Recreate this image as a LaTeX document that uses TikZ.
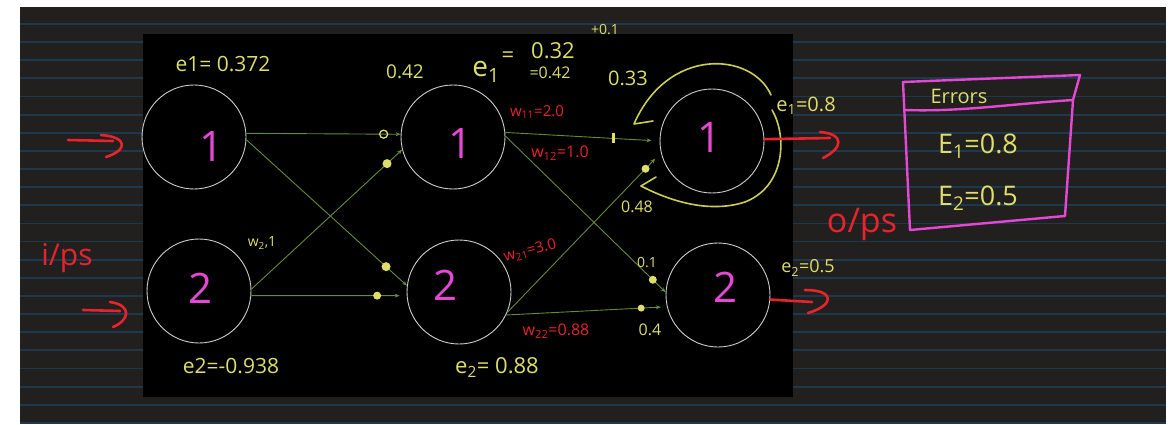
\documentclass[tikz,border=0pt]{standalone}
\usepackage{fontspec}
\setmainfont{Open Sans}
\usetikzlibrary{arrows.meta}
\definecolor{bgdark}{RGB}{33,32,31}
\definecolor{bluel}{RGB}{30,56,78}
\definecolor{yel}{RGB}{222,222,105}
\definecolor{loopy}{RGB}{205,205,85}
\definecolor{mag}{RGB}{228,72,212}
\definecolor{redc}{RGB}{232,35,45}
\definecolor{grn}{RGB}{100,140,55}
\definecolor{circ}{RGB}{205,205,205}
\begin{document}
\begin{tikzpicture}[x=1pt,y=-1pt,
  neuron/.style={circle,draw=circ,line width=0.9pt,minimum size=104pt,inner sep=0},
  digit/.style={text=mag,font=\fontsize{42}{42}\selectfont,inner sep=0},
  conn/.style={draw=grn,line width=0.9pt,-{Stealth[length=5pt,width=4pt]}},
  ydot/.style={circle,fill=yel,inner sep=0,minimum size=8pt},
  yring/.style={circle,draw=yel,line width=1.3pt,inner sep=0,minimum size=8pt},
  ytick/.style={rectangle,fill=yel,inner sep=0,minimum width=3pt,minimum height=10pt},
  ytext/.style={text=yel,inner sep=0},
  rtext/.style={text=redc,inner sep=0},
  redarrow/.style={draw=redc,line width=2.6pt,line cap=round,line join=round},
  loopline/.style={draw=loopy,line width=1.6pt,line cap=round,line join=round},
  boxline/.style={draw=mag,line width=2.4pt,line cap=round,line join=round}]
\useasboundingbox (0,0) rectangle (1170,425);
\fill[white] (0,0) rectangle (1170,425);
\fill[bgdark] (20,7) rectangle (1166,423);
\begin{scope}
\clip (20,7) rectangle (1166,423);
\foreach \k in {0,...,22} \draw[bluel,line width=1.8pt] (20,{24+18.13*\k}) -- (1166,{24+18.13*\k});
\end{scope}
\fill[black] (143,34) rectangle (793,397);

% neurons
\node[neuron] (i1) at (194,137) {};
\node[neuron] (i2) at (199,291) {};
\node[neuron] (h1) at (453,137) {};
\node[neuron] (h2) at (459,292) {};
\node[neuron] (o1) at (712,141) {};
\node[neuron] (o2) at (718,295) {};
\node[digit] (di1) at (212,147) {1};
\node[digit] (di2) at (201,288) {2};
\node[digit] (dh1) at (461,144) {1};
\node[digit] (dh2) at (446,285) {2};
\node[digit] (do1) at (709,138) {1};
\node[digit] (do2) at (725,287) {2};

% connectors
\draw[conn] (i1.4) -- node[yring,pos=0.89] (m1) {} (h1.177);
\draw[conn] (i1.-3) -- node[ydot,pos=0.87,minimum width=7pt,minimum height=9pt] (m2) {} (h2.173);
\draw[conn] (i2.2) -- node[ydot,pos=0.9,minimum size=9pt] (m3) {} (h1.194);
\draw[conn,shorten >=7pt] (i2.-5) -- node[ydot,pos=0.81] (m4) {} (h2.184);
\draw[conn,shorten >=8pt] (h1.5) -- node[ytick,pos=0.70] (m5) {} (o1.180);
\draw[conn] (h1.1) -- node[ydot,pos=0.92] (m6) {} (o2.177);
\draw[conn,shorten >=8pt] (h2.-23) -- node[ydot,pos=0.9] (m7) {} (o1.193);
\draw[conn,shorten >=6pt] (h2.-26) -- node[ydot,pos=0.84,minimum size=7pt] (m8) {} (o2.193);

% self loop on output 1
\draw[loopline] (771,95) .. controls (752,52) and (668,46) .. (634,124) -- (653,121);
\draw[loopline] (772,110) .. controls (787,135) and (786,186) .. (745,202) .. controls (708,214) and (668,200) .. (641,186) -- (656,177);

% red arrows
\coordinate (ia1) at (68,140);
\coordinate (ia2) at (83,310);
\coordinate (oa1) at (830,138);
\coordinate (oa2) at (812,302);
\draw[redarrow] (ia1) -- (113,141);
\draw[redarrow] (101,135) .. controls (128,137) and (128,150) .. (106,157);
\draw[redarrow] (ia2) -- (120,311);
\draw[redarrow] (110,302) .. controls (132,305) and (130,320) .. (113,327);
\draw[redarrow] (o1.2) -- (oa1);
\draw[redarrow] (820,132) .. controls (845,134) and (843,148) .. (823,158);
\draw[redarrow] (o2.-5) -- (oa2);
\draw[redarrow] (805,290) .. controls (835,290) and (835,305) .. (808,313);

% errors box
\draw[boxline] (903,82) -- (1080,75) -- (1073,100) -- (1065,216) -- (910,230) -- cycle;
\draw[boxline] (905,110) .. controls (960,112) and (1010,104) .. (1073,100);
\node[ytext,font=\fontsize{20}{20}\selectfont] (errt) at (959,96) {Errors};
\node[ytext,font=\fontsize{27}{27}\selectfont] (E1) at (978,146) {E\textsubscript{1}=0.8};
\node[ytext,font=\fontsize{27}{27}\selectfont] (E2) at (978,198) {E\textsubscript{2}=0.5};

% yellow labels
\node[ytext,font=\fontsize{21}{21}\selectfont] (le1) at (223,64) {e1= 0.372};
\node[ytext,font=\fontsize{21}{21}\selectfont] (le2) at (231,366) {e2=-0.938};
\node[ytext,font=\fontsize{14}{14}\selectfont] (lw21a) at (262,243) {w\textsubscript{2},1};
\node[ytext,font=\fontsize{19}{19}\selectfont] (l042) at (405,72) {0.42};
\node[ytext,font=\fontsize{28}{28}\selectfont] (lhe1) at (486,72) {e\textsubscript{1}};
\node[ytext,font=\fontsize{22}{22}\selectfont] (lheq) at (508,57) {=};
\node[ytext,font=\fontsize{22}{22}\selectfont] (l032) at (553,51) {0.32};
\node[ytext,font=\fontsize{14}{14}\selectfont] (lp01) at (605,30) {+0.1};
\node[ytext,font=\fontsize{16}{16}\selectfont] (leq042) at (550,73) {=0.42};
\node[ytext,font=\fontsize{20}{20}\selectfont] (l033) at (628,78) {0.33};
\node[ytext,font=\fontsize{16}{16}\selectfont] (l048) at (637,207) {0.48};
\node[ytext,font=\fontsize{14}{14}\selectfont] (l01) at (647,263) {0.1};
\node[ytext,font=\fontsize{16}{16}\selectfont] (l04) at (650,330) {0.4};
\node[ytext,font=\fontsize{22}{22}\selectfont] (lhe2) at (497,368) {e\textsubscript{2}= 0.88};
\node[ytext,font=\fontsize{20}{20}\selectfont] (loe1) at (806,106) {e\textsubscript{1}=0.8};
\node[ytext,font=\fontsize{18}{18}\selectfont] (loe2) at (808,268) {e\textsubscript{2}=0.5};

% red labels
\node[rtext,font=\fontsize{15}{15}\selectfont] (w11) at (537,112) {w\textsubscript{11}=2.0};
\node[rtext,font=\fontsize{16}{16}\selectfont] (w12) at (560,153) {w\textsubscript{12}=1.0};
\node[rtext,font=\fontsize{15}{15}\selectfont,rotate=15] (w21) at (530,251) {w\textsubscript{21}=3.0};
\node[rtext,font=\fontsize{16}{16}\selectfont] (w22) at (556,331) {w\textsubscript{22}=0.88};
\node[rtext,font=\fontsize{30}{30}\selectfont] (ips) at (67,258) {i/ps};
\node[rtext,font=\fontsize{34}{34}\selectfont] (ops) at (862,224) {o/ps};
\end{tikzpicture}
\end{document}
